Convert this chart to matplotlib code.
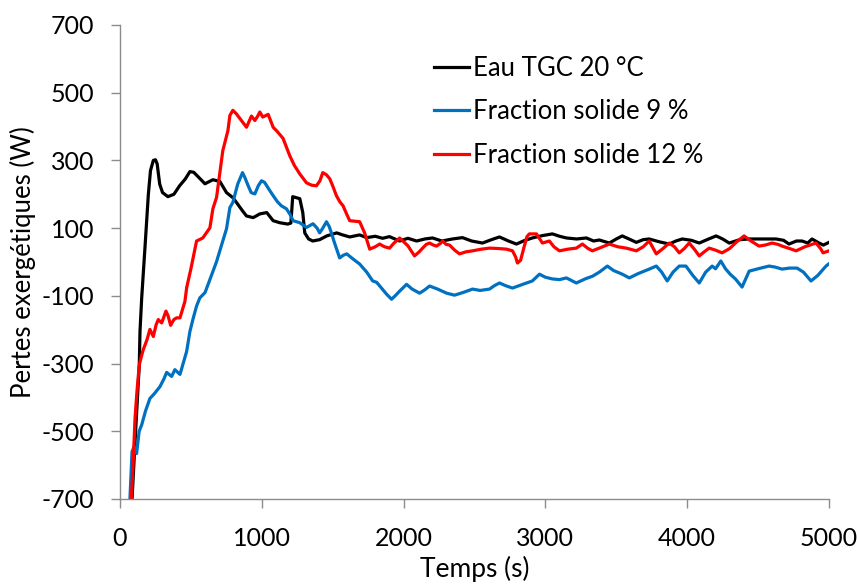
import matplotlib
matplotlib.use("Agg")
import matplotlib.pyplot as plt

# ---- data ----
eau_t = [85, 110, 136, 141, 153, 176, 200, 215, 235, 250, 262, 280, 300, 338, 380, 420, 460, 493, 520, 560,
         599, 655, 704, 751, 796, 821, 866, 892, 939, 986, 1035, 1080, 1127, 1183, 1205, 1218, 1268, 1289,
         1303, 1330, 1359, 1408, 1458, 1528, 1570, 1620, 1690, 1739, 1800, 1852, 1900, 1972, 2030, 2092,
         2150, 2204, 2270, 2345, 2415, 2480, 2556, 2620, 2676, 2740, 2796, 2850, 2908, 2980, 3049, 3100,
         3148, 3220, 3289, 3340, 3380, 3451, 3500, 3542, 3600, 3641, 3690, 3732, 3800, 3873, 3920, 3965,
         4030, 4085, 4140, 4204, 4250, 4296, 4370, 4437, 4530, 4627, 4680, 4718, 4770, 4810, 4850, 4880,
         4930, 4960, 5000]
eau_p = [-700, -500, -304, -205, -106, 42, 200, 270, 300, 302, 290, 230, 205, 193, 200, 225, 245, 267, 265, 248,
         231, 243, 238, 205, 190, 176, 150, 136, 131, 142, 146, 122, 116, 112, 115, 193, 187, 146,
         86, 68, 62, 66, 77, 86, 80, 74, 80, 72, 76, 70, 75, 62, 70, 62,
         68, 71, 62, 68, 72, 62, 56, 66, 74, 62, 53, 63, 71, 78, 83, 76,
         71, 68, 71, 62, 65, 56, 68, 77, 66, 58, 66, 68, 60, 53, 62, 68,
         64, 56, 66, 77, 68, 56, 66, 68, 68, 68, 64, 53, 62, 62, 56, 68,
         56, 50, 58]

fs9_t = [70, 85, 100, 117, 135, 153, 180, 211, 240, 282, 310, 329, 364, 387, 423, 445, 470, 493, 517, 540,
         563, 600, 648, 680, 704, 751, 775, 796, 830, 864, 880, 904, 925, 951, 975, 998, 1020, 1050, 1080,
         1110, 1138, 1174, 1200, 1221, 1268, 1315, 1361, 1390, 1408, 1430, 1456, 1475, 1491, 1510, 1549,
         1575, 1599, 1640, 1690, 1740, 1782, 1810, 1850, 1880, 1915, 1945, 1972, 2021, 2060, 2113, 2150,
         2183, 2240, 2303, 2359, 2420, 2486, 2540, 2606, 2640, 2676, 2720, 2768, 2840, 2908, 2958, 3000,
         3049, 3100, 3148, 3218, 3280, 3332, 3380, 3437, 3480, 3542, 3592, 3650, 3732, 3782, 3820, 3859,
         3900, 3944, 3991, 4040, 4085, 4130, 4176, 4200, 4237, 4270, 4303, 4340, 4387, 4437, 4500, 4577,
         4620, 4669, 4720, 4775, 4820, 4873, 4920, 4979, 5000]
fs9_p = [-700, -560, -545, -566, -500, -481, -440, -403, -390, -368, -345, -326, -338, -318, -332, -300, -264, -205, -165, -130,
         -106, -90, -36, 0, 33, 98, 161, 176, 230, 264, 250, 225, 205, 201, 225, 240, 235, 215, 196,
         178, 166, 157, 140, 122, 116, 102, 113, 100, 86, 100, 119, 105, 86, 60, 12,
         20, 24, 10, -6, -30, -56, -60, -80, -95, -110, -98, -86, -66, -80, -92, -82,
         -71, -80, -92, -98, -90, -80, -84, -80, -70, -62, -70, -77, -66, -56, -36, -45,
         -50, -52, -47, -62, -50, -42, -30, -12, -25, -36, -47, -35, -21, -12, -30, -56,
         -30, -12, -12, -40, -62, -30, -12, -20, 3, -20, -36, -50, -74, -27, -20, -12,
         -15, -21, -18, -18, -30, -56, -40, -12, -5]

fs12_t = [80, 92, 106, 120, 136, 150, 164, 190, 211, 235, 255, 270, 294, 324, 340, 357, 380, 399, 423, 458,
          470, 500, 540, 584, 634, 655, 681, 725, 761, 775, 796, 820, 845, 870, 892, 910, 927, 951, 970,
          986, 1007, 1025, 1045, 1060, 1080, 1110, 1150, 1197, 1230, 1268, 1315, 1350, 1385, 1410, 1430,
          1455, 1479, 1500, 1526, 1550, 1573, 1600, 1620, 1690, 1725, 1761, 1800, 1831, 1865, 1901, 1930,
          1972, 2030, 2077, 2110, 2134, 2160, 2183, 2210, 2232, 2260, 2275, 2300, 2324, 2360, 2394, 2440,
          2486, 2550, 2606, 2660, 2725, 2768, 2790, 2803, 2825, 2850, 2870, 2887, 2937, 2979, 3028, 3060,
          3099, 3160, 3218, 3261, 3300, 3331, 3380, 3451, 3510, 3570, 3641, 3690, 3732, 3782, 3830, 3873,
          3910, 3944, 3980, 4014, 4050, 4085, 4120, 4155, 4200, 4246, 4300, 4350, 4401, 4450, 4507, 4550,
          4599, 4640, 4669, 4720, 4768, 4830, 4908, 4940, 4958, 5000]
fs12_p = [-700, -600, -462, -380, -304, -280, -259, -230, -199, -220, -185, -170, -180, -145, -160, -187, -170, -165, -165, -116,
          -76, -20, 62, 71, 101, 157, 191, 329, 388, 433, 448, 438, 424, 410, 398, 415, 431, 418, 430,
          443, 428, 432, 436, 420, 398, 385, 365, 314, 285, 260, 234, 227, 225, 240, 264,
          258, 246, 225, 196, 178, 166, 140, 122, 119, 86, 38, 45, 53, 45, 41, 55,
          71, 48, 18, 30, 41, 52, 56, 50, 47, 55, 62, 52, 50, 35, 24, 30,
          33, 38, 41, 40, 38, 33, 15, -3, 5, 45, 75, 83, 83, 56, 62, 45,
          33, 38, 41, 53, 40, 33, 41, 53, 45, 41, 33, 45, 62, 24, 40, 56,
          45, 27, 40, 56, 38, 18, 30, 41, 35, 27, 40, 60, 77, 62, 47, 50,
          56, 52, 47, 40, 33, 45, 56, 40, 27, 33]

labels = ["Eau TGC 20 °C", "Fraction solide 9 %", "Fraction solide 12 %"]
colors = ["#000000", "#0070C0", "#FF0000"]
xticks = [0, 1000, 2000, 3000, 4000, 5000]
yticks = [-700, -500, -300, -100, 100, 300, 500, 700]

plt.rcParams['font.family'] = ['Lato', 'DejaVu Sans']
plt.rcParams['axes.unicode_minus'] = False

fig = plt.figure(figsize=(8.57, 5.86), dpi=100)
ax = fig.add_axes([120/857, 87/586, 709/857, 474/586])

for t, p, lab, c in zip([eau_t, fs9_t, fs12_t], [eau_p, fs9_p, fs12_p], labels, colors):
    ax.plot(t, p, color=c, lw=2.3, label=lab, solid_joinstyle='round')

ax.set_xlim(0, 5000)
ax.set_ylim(-700, 700)
ax.set_xticks(xticks)
ax.set_yticks(yticks)
for s in ['top', 'right']:
    ax.spines[s].set_visible(False)
for s in ['left', 'bottom']:
    ax.spines[s].set_color('#8c8c8c')
    ax.spines[s].set_linewidth(1.0)
ax.tick_params(axis='both', colors='#8c8c8c', length=6.5, width=1.0, labelsize=18, labelcolor='black')
ax.tick_params(axis='y', pad=12)
ax.tick_params(axis='x', pad=14)

ax.set_xlabel("Temps (s)", fontsize=19, labelpad=4)
ax.set_ylabel("Pertes exergétiques (W)", fontsize=18.5, labelpad=4)

leg = ax.legend(loc='upper left', bbox_to_anchor=(0.443, 0.935), frameon=False, fontsize=18.5,
                handlelength=1.35, handletextpad=0.15, labelspacing=0.72, borderaxespad=0,
                borderpad=0)

fig.savefig("out.png", dpi=100)
